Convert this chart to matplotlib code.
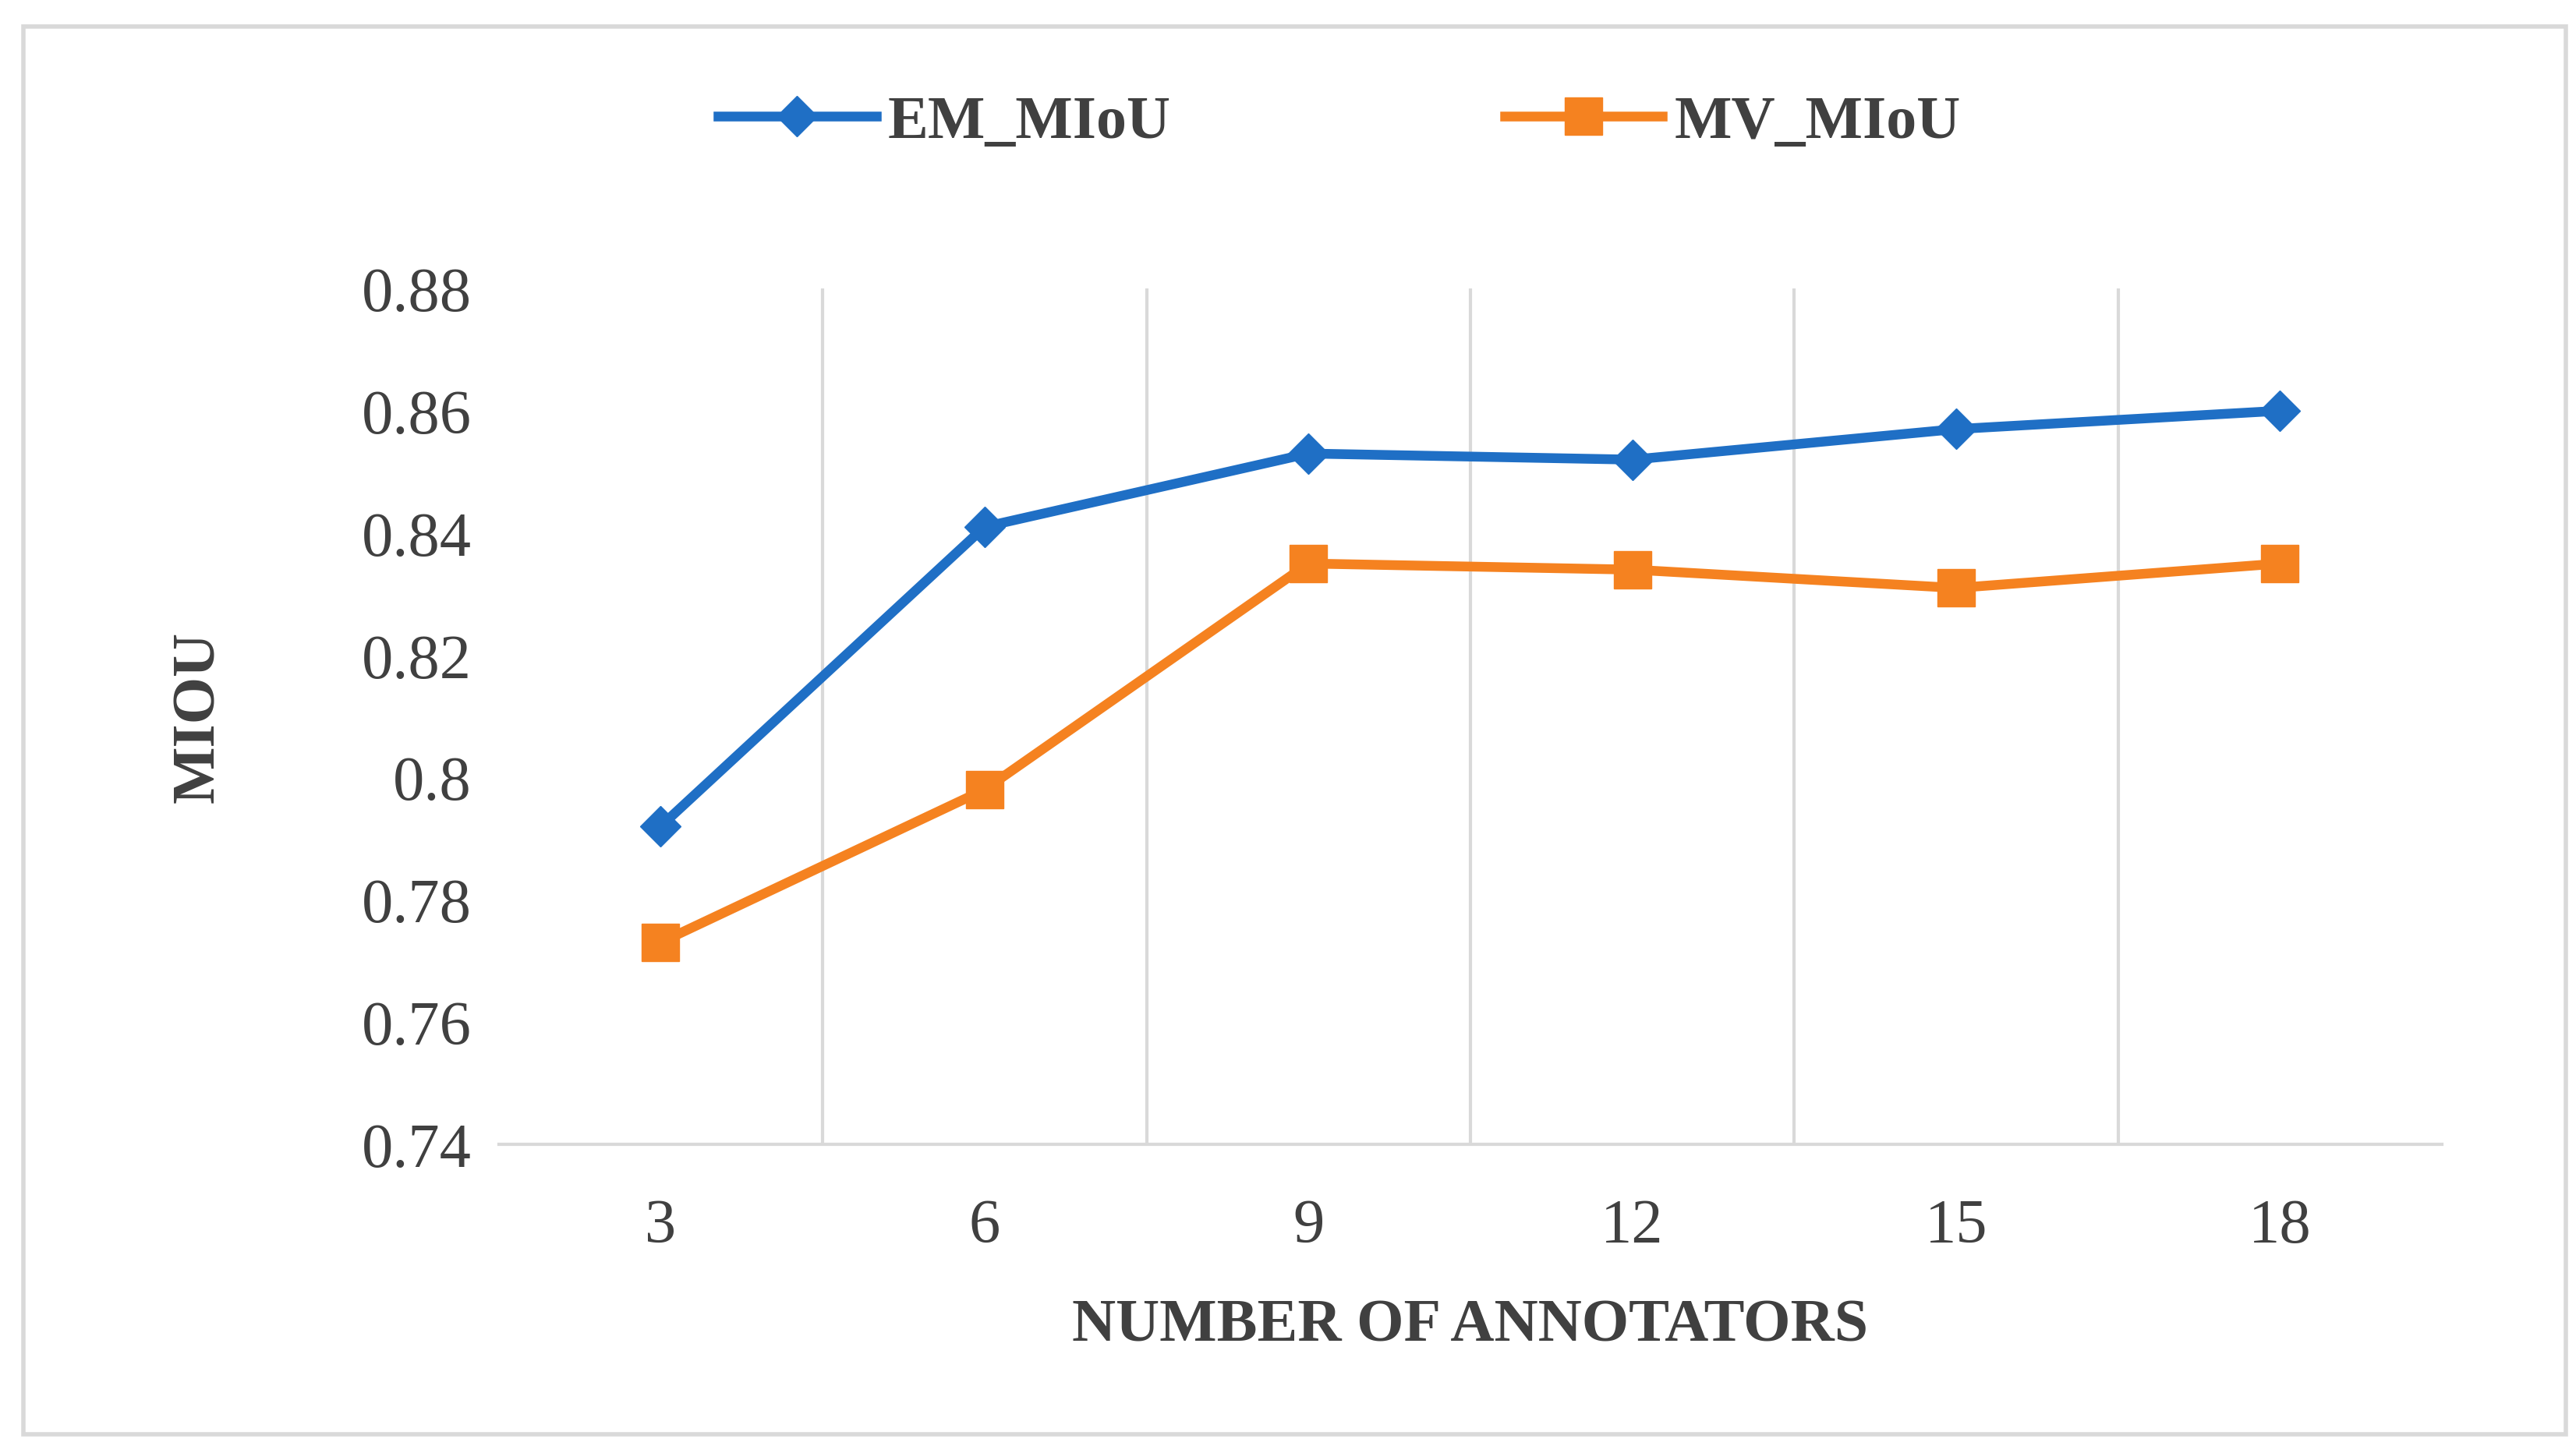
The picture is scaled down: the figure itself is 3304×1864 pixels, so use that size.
import matplotlib.pyplot as plt
from matplotlib.patches import Rectangle

plt.rcParams['font.family'] = ['Liberation Serif', 'DejaVu Serif']

categories = ['3', '6', '9', '12', '15', '18']
em_miou = [0.792, 0.841, 0.853, 0.852, 0.857, 0.860]
mv_miou = [0.773, 0.798, 0.835, 0.834, 0.831, 0.835]

fig = plt.figure(figsize=(33.04, 18.65), dpi=100)
fig.patches.append(Rectangle((0.009, 0.013), 0.987, 0.968, transform=fig.transFigure,
                             fill=False, edgecolor='#d9d9d9', linewidth=4))
ax = fig.add_axes([0.1936, 0.2125, 0.7594 - 0.005, 0.5885])

x = list(range(len(categories)))
ax.plot(x, em_miou, color='#1f6fc5', linewidth=9, marker='D', markersize=26, label='EM_MIoU')
ax.plot(x, mv_miou, color='#f58220', linewidth=9, marker='s', markersize=34, label='MV_MIoU')

ax.set_xlim(-0.5, len(categories) - 0.5)
ax.set_ylim(0.74, 0.88)
ax.set_yticks([0.74, 0.76, 0.78, 0.80, 0.82, 0.84, 0.86, 0.88])
ax.set_yticklabels(['0.74', '0.76', '0.78', '0.8', '0.82', '0.84', '0.86', '0.88'])
ax.set_xticks(x)
ax.set_xticklabels(categories)
for b in [i + 0.5 for i in x[:-1]]:
    ax.axvline(b, color='#d9d9d9', linewidth=3, zorder=0)
for s in ['top', 'right', 'left']:
    ax.spines[s].set_visible(False)
ax.spines['bottom'].set_color('#d9d9d9')
ax.spines['bottom'].set_linewidth(3)
ax.tick_params(axis='y', length=0, labelsize=58, colors='#404040', pad=25)
ax.tick_params(axis='x', length=0, labelsize=58, colors='#404040', pad=50)
ax.set_xlabel('NUMBER OF ANNOTATORS', fontsize=56, color='#404040', fontweight='bold', labelpad=40)
ax.set_ylabel('MIOU', fontsize=56, color='#404040', fontweight='bold', labelpad=30)
ax.yaxis.set_label_coords(-0.14, 0.5)

fig.legend(loc='center', bbox_to_anchor=(0.52, 0.915), ncol=2, frameon=False,
           prop={'size': 56, 'weight': 'bold'}, labelcolor='#404040',
           handlelength=2.6, columnspacing=5.5, handletextpad=0.2)

fig.savefig('out.png', dpi=100)
